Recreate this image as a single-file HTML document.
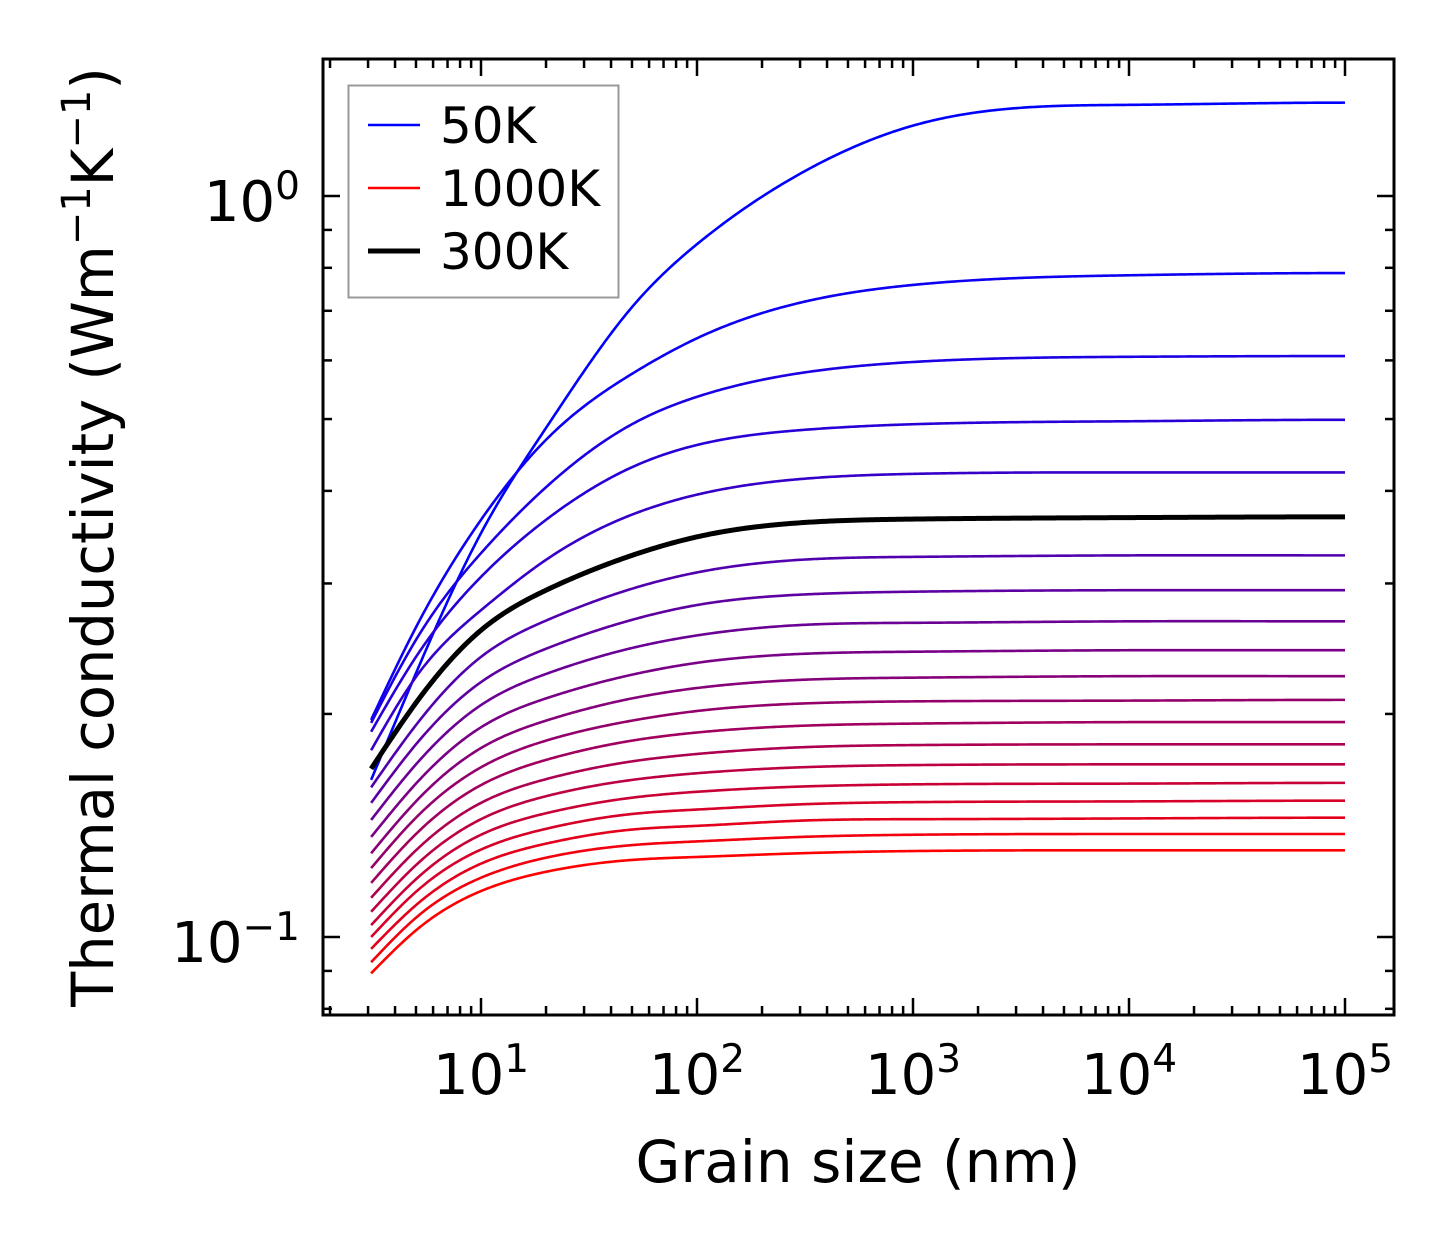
<!DOCTYPE html>
<html>
<head>
<meta charset="utf-8">
<style>
  html, body { margin: 0; padding: 0; background: #fff; }
  svg { display: block; }
  text { font-family: "DejaVu Sans", "Liberation Sans", sans-serif; fill: #000; }
</style>
</head>
<body>
<svg id="chart" width="1454" height="1254" viewBox="0 0 1454 1254" xmlns="http://www.w3.org/2000/svg">
  <rect x="0" y="0" width="1454" height="1254" fill="#fff"/>
  <g id="curves"></g>
  <g id="ticks"></g>
  <rect x="323" y="59" width="1071" height="956" fill="none" stroke="#000" stroke-width="3"/>
  <g id="labels"></g>
  <text x="858" y="1182" font-size="58" text-anchor="middle">Grain size (nm)</text>
  <text transform="translate(113,537) rotate(-90)" font-size="57.5" text-anchor="middle">Thermal conductivity (Wm<tspan baseline-shift="super" font-size="40">−1</tspan>K<tspan baseline-shift="super" font-size="40">−1</tspan>)</text>
  <g>
    <rect x="348.5" y="85.5" width="270" height="212" fill="#fff" fill-opacity="0.8" stroke="#999" stroke-width="2"/>
    <g>
      <line x1="368" y1="125" x2="420" y2="125" stroke="#0000ff" stroke-width="2.5"/>
      <text x="440" y="143" font-size="50">50K</text>
    </g>
    <g>
      <line x1="368" y1="188" x2="420" y2="188" stroke="#ff0000" stroke-width="2.5"/>
      <text x="440" y="206" font-size="50">1000K</text>
    </g>
    <g>
      <line x1="368" y1="251" x2="420" y2="251" stroke="#000" stroke-width="5"/>
      <text x="440" y="269" font-size="50">300K</text>
    </g>
  </g>
</svg>
<script>
// ---- data: log10 of thermal conductivity (W m^-1 K^-1) at each grain size (nm) ----
const grainSizes = [3.1, 5, 10, 20, 50, 100, 300, 1000, 10000, 100000];
const temperatures = [50,100,150,200,250,300,350,400,450,500,550,600,650,700,750,800,850,900,950,1000];
const logK50   = [-0.788, -0.644, -0.455, -0.313, -0.150, -0.065, 0.030, 0.095, 0.123, 0.126];
const logK100  = [-0.707, -0.582, -0.437, -0.329, -0.240, -0.192, -0.144, -0.120, -0.107, -0.104];
const logK150  = [-0.711, -0.599, -0.482, -0.393, -0.308, -0.271, -0.239, -0.224, -0.217, -0.216];
const logK200  = [-0.723, -0.622, -0.514, -0.437, -0.366, -0.336, -0.316, -0.308, -0.304, -0.302];
const logK250  = [-0.748, -0.649, -0.559, -0.491, -0.430, -0.403, -0.382, -0.375, -0.373, -0.373];
const logK300  = [-0.773, -0.684, -0.586, -0.532, -0.485, -0.460, -0.441, -0.436, -0.434, -0.433];
const logK350  = [-0.798, -0.714, -0.622, -0.573, -0.530, -0.508, -0.491, -0.487, -0.485, -0.485];
const logK400  = [-0.819, -0.740, -0.656, -0.611, -0.572, -0.552, -0.538, -0.534, -0.532, -0.532];
const logK450  = [-0.842, -0.767, -0.687, -0.645, -0.610, -0.593, -0.579, -0.576, -0.574, -0.574];
const logK500  = [-0.865, -0.793, -0.717, -0.678, -0.646, -0.630, -0.618, -0.615, -0.613, -0.613];
const logK550  = [-0.887, -0.817, -0.745, -0.708, -0.678, -0.664, -0.653, -0.650, -0.648, -0.648];
const logK600  = [-0.907, -0.839, -0.771, -0.735, -0.708, -0.695, -0.685, -0.682, -0.681, -0.680];
const logK650  = [-0.927, -0.861, -0.795, -0.761, -0.735, -0.724, -0.715, -0.712, -0.710, -0.710];
const logK700  = [-0.947, -0.883, -0.819, -0.787, -0.763, -0.753, -0.744, -0.741, -0.740, -0.740];
const logK750  = [-0.966, -0.903, -0.841, -0.810, -0.788, -0.779, -0.771, -0.768, -0.767, -0.767];
const logK800  = [-0.984, -0.922, -0.862, -0.833, -0.812, -0.804, -0.797, -0.794, -0.793, -0.792];
const logK850  = [-1.000, -0.939, -0.882, -0.854, -0.834, -0.828, -0.821, -0.818, -0.817, -0.816];
const logK900  = [-1.016, -0.957, -0.901, -0.874, -0.855, -0.850, -0.843, -0.841, -0.840, -0.839];
const logK950  = [-1.034, -0.974, -0.920, -0.893, -0.876, -0.871, -0.865, -0.862, -0.861, -0.861];
const logK1000 = [-1.049, -0.991, -0.938, -0.912, -0.896, -0.892, -0.887, -0.884, -0.883, -0.883];
const seriesLogValues = [logK50,logK100,logK150,logK200,logK250,logK300,logK350,logK400,logK450,logK500,logK550,logK600,logK650,logK700,logK750,logK800,logK850,logK900,logK950,logK1000];
const highlightTemp = 300;
const xMajorTicks = [1, 2, 3, 4, 5];
const xTickLabels = ["1", "2", "3", "4", "5"];
const yMajorTicks = [0, -1];
const yTickLabels = ["0", "−1"];

// ---- axes ----
const NS = "http://www.w3.org/2000/svg";
const X0 = 323, X1 = 1394, Y0 = 59, Y1 = 1015;
function xScale(v) { return 481 + (Math.log10(v) - 1) * 216; }
function yScale(v) { return 196 - Math.log10(v) * 741; }
function mk(tag, attrs, parent) {
  const e = document.createElementNS(NS, tag);
  for (const k in attrs) e.setAttribute(k, attrs[k]);
  parent.appendChild(e);
  return e;
}

// cubic spline in log-log space (natural at left, zero slope at right)
function spline(xs, ys, n) {
  const N = xs.length, h = [];
  for (let i = 0; i < N - 1; i++) h.push(xs[i+1] - xs[i]);
  const a = new Array(N).fill(0), b = new Array(N).fill(0), c = new Array(N).fill(0), r = new Array(N).fill(0);
  b[0] = 1;
  for (let i = 1; i < N - 1; i++) {
    a[i] = h[i-1]; b[i] = 2*(h[i-1]+h[i]); c[i] = h[i];
    r[i] = 6*((ys[i+1]-ys[i])/h[i] - (ys[i]-ys[i-1])/h[i-1]);
  }
  a[N-1] = h[N-2]; b[N-1] = 2*h[N-2]; r[N-1] = 6*(0 - (ys[N-1]-ys[N-2])/h[N-2]);
  for (let i = 1; i < N; i++) {
    const w = a[i] / b[i-1];
    b[i] -= w * c[i-1]; r[i] -= w * r[i-1];
  }
  const M = new Array(N);
  M[N-1] = r[N-1] / b[N-1];
  for (let i = N - 2; i >= 0; i--) M[i] = (r[i] - c[i]*M[i+1]) / b[i];
  const out = [];
  for (let j = 0; j <= n; j++) {
    const x = xs[0] + (xs[N-1]-xs[0]) * j / n;
    let i = 0; while (i < N - 2 && x > xs[i+1]) i++;
    const hh = h[i], A = (xs[i+1]-x)/hh, B = (x-xs[i])/hh;
    out.push([x, A*ys[i] + B*ys[i+1] + ((A*A*A - A)*M[i] + (B*B*B - B)*M[i+1]) * hh*hh/6]);
  }
  return out;
}

const curvesG = document.getElementById("curves");
let blackPath = null;
seriesLogValues.forEach((lv, i) => {
  const lx = grainSizes.map(Math.log10);
  const pts = spline(lx, lv, 500);
  const dStr = pts.map((p, j) => (j ? "L" : "M") + xScale(Math.pow(10, p[0])).toFixed(2) + "," + yScale(Math.pow(10, p[1])).toFixed(2)).join("");
  const t = i / (seriesLogValues.length - 1);
  const col = "rgb(" + Math.round(255*t) + ",0," + Math.round(255*(1-t)) + ")";
  const isHi = temperatures[i] === highlightTemp;
  const p = mk("path", { d: dStr, fill: "none", stroke: isHi ? "#000" : col, "stroke-width": isHi ? 5 : 2.6, "stroke-linejoin": "round" }, curvesG);
  
  
  if (isHi) blackPath = p;
});
if (blackPath) curvesG.appendChild(blackPath);

// ticks
const tg = document.getElementById("ticks");
function tick(x1, y1, x2, y2, name) {
  const l = mk("line", { x1, y1, x2, y2, stroke: "#000", "stroke-width": 2.5 }, tg);
  
  
}
for (let dec = 0; dec <= 5; dec++) {
  for (let m = 1; m <= 9; m++) {
    const v = m * Math.pow(10, dec), x = xScale(v);
    if (x < X0 + 1 || x > X1 - 1) continue;
    const len = m === 1 ? 17 : 9;
    tick(x, Y1, x, Y1 - len, 'x-tick');
    tick(x, Y0, x, Y0 + len, 'x-tick-top');
  }
}
for (let dec = -2; dec <= 0; dec++) {
  for (let m = 1; m <= 9; m++) {
    const v = m * Math.pow(10, dec), y = yScale(v);
    if (y < Y0 + 1 || y > Y1 - 1) continue;
    const len = m === 1 ? 17 : 9;
    tick(X0, y, X0 + len, y, 'y-tick');
    tick(X1, y, X1 - len, y, 'y-tick-right');
  }
}

// tick labels
const lg = document.getElementById("labels");
xMajorTicks.forEach((e, i) => {
  const t = mk("text", { x: xScale(Math.pow(10, e)), y: 1094, "font-size": 56, "text-anchor": "middle" }, lg);
  
  
  t.innerHTML = '10<tspan dy="-22" font-size="39">' + xTickLabels[i] + '</tspan>';
});
yMajorTicks.forEach((e, i) => {
  const t = mk("text", { x: 300, y: yScale(Math.pow(10, e)) + 25, "font-size": 56, "text-anchor": "end" }, lg);
  
  
  t.innerHTML = '10<tspan dy="-22" font-size="39">' + yTickLabels[i] + '</tspan>';
});
</script>
</body>
</html>
